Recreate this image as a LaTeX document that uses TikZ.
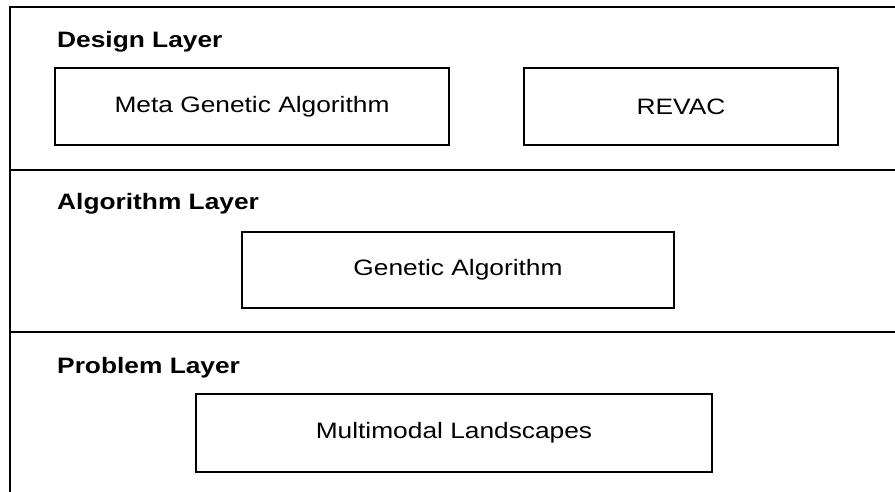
\documentclass[tikz,border=0pt]{standalone}
\usepackage{fontspec}
\setmainfont[FakeStretch=1.18]{Liberation Sans}
\begin{document}
\begin{tikzpicture}[x=1pt,y=-1pt,
  frameline/.style={line width=2pt},
  layerlabel/.style={anchor=base west,inner sep=0pt,font=\fontsize{22.3}{26}\selectfont\bfseries},
  compbox/.style={draw,line width=1.6pt,inner sep=0pt,font=\fontsize{22.3}{26}\selectfont}]
\useasboundingbox (0,0) rectangle (895,492);
% frame
\draw[frameline] (895,7) -- (10,7) -- (10,492);
\draw[frameline] (10,170) -- (895,170);
\draw[frameline] (10,332) -- (895,332);
% layer labels
\node[layerlabel] (design) at (57,48) {Design Layer};
\node[layerlabel] (algo) at (57,210) {Algorithm Layer};
\node[layerlabel] (prob) at (57,373) {Problem Layer};
% boxes
\node[compbox,minimum width=394pt,minimum height=77pt] (mga) at (252,106.5) {Meta Genetic Algorithm};
\node[compbox,minimum width=314pt,minimum height=77pt] (revac) at (681,106.5) {REVAC};
\node[compbox,minimum width=432pt,minimum height=76pt] (ga) at (458,270) {Genetic Algorithm};
\node[compbox,minimum width=516pt,minimum height=78pt] (ml) at (454,433) {Multimodal Landscapes};
\end{tikzpicture}
\end{document}
